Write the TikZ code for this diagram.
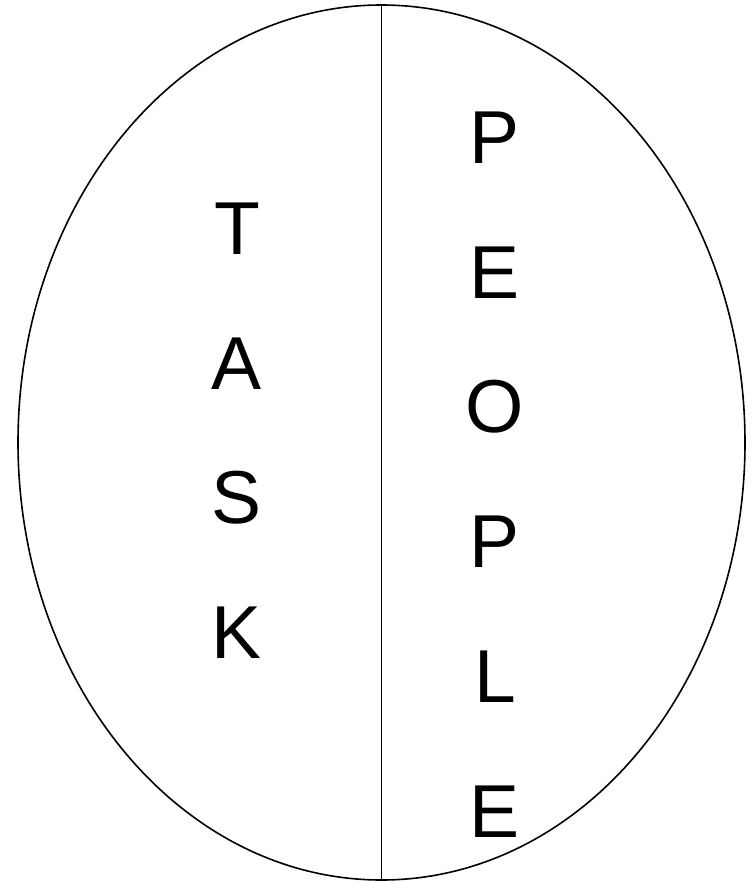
\documentclass[tikz,border=0pt]{standalone}
\usepackage{fontspec}
\setmainfont{Liberation Sans}
\usetikzlibrary{shapes.geometric}
\tikzset{
  outline/.style={draw=black, line width=1.6pt},
  letter/.style={inner sep=0pt, anchor=base, font=\fontsize{75}{75}\selectfont}
}
\begin{document}
\begin{tikzpicture}[x=1pt,y=-1pt]
\useasboundingbox (0,0) rectangle (752,883);
\node[outline, ellipse, minimum width=727pt, minimum height=875pt, inner sep=0pt] (oval) at (381.5,442.5) {};
\draw[outline] (oval.north) -- (oval.south);
\node[letter] (t1) at (237,254) {T};
\node[letter] (t2) at (237,389) {A};
\node[letter] (t3) at (237,523) {S};
\node[letter] (t4) at (237,658) {K};
\node[letter] (p1) at (495,163) {P};
\node[letter] (p2) at (495,298) {E};
\node[letter] (p3) at (495,432) {O};
\node[letter] (p4) at (495,567) {P};
\node[letter] (p5) at (495,702) {L};
\node[letter] (p6) at (495,837) {E};
\end{tikzpicture}
\end{document}
